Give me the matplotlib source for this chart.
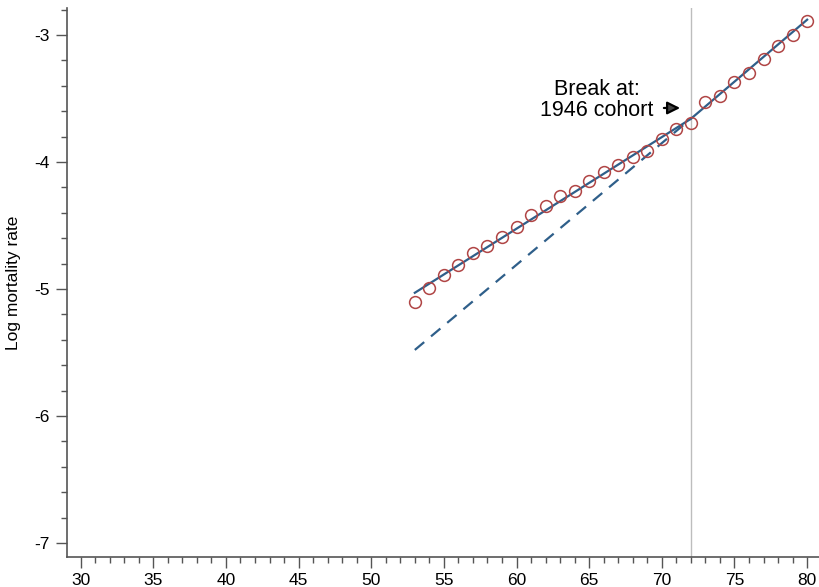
import matplotlib.pyplot as plt
from matplotlib.ticker import MultipleLocator, FuncFormatter

plt.rcParams['font.family'] = ['Liberation Sans', 'DejaVu Sans']

# observed log mortality by age
ages = [53, 54, 55, 56, 57, 58, 59, 60, 61, 62, 63, 64, 65, 66,
        67, 68, 69, 70, 71, 72, 73, 74, 75, 76, 77, 78, 79, 80]
log_mort = [-5.10, -4.99, -4.89, -4.81, -4.72, -4.66, -4.59, -4.51, -4.42, -4.35,
            -4.27, -4.23, -4.15, -4.08, -4.02, -3.96, -3.91, -3.82, -3.74, -3.69,
            -3.53, -3.48, -3.37, -3.30, -3.19, -3.09, -3.00, -2.89]

# fitted piecewise line and counterfactual extension of post-break trend
fit_x = [53, 72, 80]
fit_y = [-5.03, -3.66, -2.88]
cf_x = [53, 72]
cf_y = [-5.48, -3.66]
break_age = 72

fig = plt.figure(figsize=(8.2, 5.87), dpi=100)
ax = fig.add_axes([0.0813, 0.0516, 0.9172, 0.9343])

ax.axvline(break_age, color='#bdbdbd', lw=1.0, zorder=1)
ax.plot(cf_x, cf_y, color='#2f5f8a', lw=1.6, ls=(0, (5.5, 4)), zorder=2)
ax.plot(fit_x, fit_y, color='#2f5f8a', lw=1.6, zorder=3)
ax.plot(ages, log_mort, ls='none', marker='o', ms=8.5, mfc='none',
        mec='#b04545', mew=1.1, zorder=4)

ax.annotate('', xy=(71.45, -3.575), xytext=(69.95, -3.575),
            arrowprops=dict(arrowstyle='-|>', color='black', lw=1.6,
                            mutation_scale=19, fc='#444444'))
ax.text(65.5, -3.51, 'Break at:\n1946 cohort', ha='center', va='center',
        fontsize=15.5, linespacing=1.02)

ax.set_xlim(29.04, 80.8)
ax.set_ylim(-7.108, -2.79)
ax.xaxis.set_major_locator(MultipleLocator(5))
ax.xaxis.set_minor_locator(MultipleLocator(1))
ax.yaxis.set_major_locator(MultipleLocator(1))
ax.yaxis.set_minor_locator(MultipleLocator(0.2))
ax.yaxis.set_major_formatter(FuncFormatter(lambda v, p: f'{v:.0f}'))

for s in ['top', 'right']:
    ax.spines[s].set_visible(False)
for s in ['left', 'bottom']:
    ax.spines[s].set_color('#555555')
    ax.spines[s].set_linewidth(1.2)

ax.tick_params(which='major', length=8, width=1.0, color='#555555',
               labelsize=12.5, pad=4)
ax.tick_params(which='minor', length=4, width=1.0, color='#555555')
ax.set_ylabel('Log mortality rate', fontsize=12.5, labelpad=10)

fig.savefig('out.png', dpi=100)
